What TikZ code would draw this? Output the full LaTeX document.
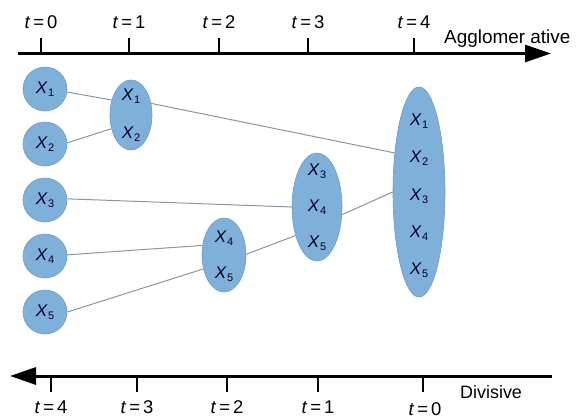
\documentclass[tikz,border=0pt]{standalone}
\usepackage{fontspec}
\setmainfont{Liberation Sans}
\usetikzlibrary{shapes.geometric,arrows.meta}
\definecolor{blobfill}{HTML}{7FB0DA}
\definecolor{blobedge}{HTML}{6B9CC6}
\definecolor{linkgray}{HTML}{8A969F}
\newcommand\xsub[1]{\textit{X}\kern0.3bp\raisebox{-3.5bp}{\fontsize{11}{11}\selectfont #1}}
\newcommand\tlab[1]{\textit{t}\kern3bp=\kern3bp#1}
\tikzset{
  blob/.style={ellipse,fill=blobfill,draw=blobedge,line width=0.6bp,inner sep=0pt},
  leaf/.style={blob,circle,minimum size=44bp},
  xlab/.style={inner sep=0pt,font=\fontsize{17}{19}\selectfont,text=black!85!blue},
  tlabel/.style={anchor=base,inner sep=0pt,font=\fontsize{18.5}{20}\selectfont},
  axis/.style={line width=3bp,-{Triangle[length=26bp,width=17bp]}},
  tick/.style={line width=1.2bp},
  link/.style={draw=linkgray,line width=1bp}
}
\begin{document}
\begin{tikzpicture}[x=1bp,y=-1bp]
\useasboundingbox (0,0) rectangle (576,419);
% top axis
\coordinate (topL) at (18,53.5);
\coordinate (topR) at (551,53.5);
\draw[axis] (topL) -- (topR);
\foreach \xx/\n in {41/0,129/1,219/2,308/3,414/4}{
  \draw[tick] (\xx,38) -- (\xx,53.5);
  \node[tlabel] (top\n) at (\xx,28) {\tlab{\n}};
}
\node[anchor=base west,inner sep=0pt,font=\fontsize{19}{22}\selectfont] (agg) at (444,43) {Agglomer ative};
% bottom axis
\coordinate (botR) at (552,376);
\coordinate (botL) at (10,376);
\draw[axis] (botR) -- (botL);
\foreach \xx/\n in {51/4,137/3,227/2,318/1}{
  \draw[tick] (\xx,376) -- (\xx,392);
  \node[tlabel] (bot\n) at (\xx,413) {\tlab{\n}};
}
\draw[tick] (423,376) -- (423,392);
\node[tlabel] (bot0) at (425,415.5) {\tlab{0}};
\node[anchor=base west,inner sep=0pt,font=\fontsize{18}{20}\selectfont] (div) at (460,398) {Divisive};
% leaves
\foreach \i/\yy in {1/89,2/144,3/200,4/256,5/312}{
  \node[leaf] (x\i) at (45,\yy) {};
  \node[xlab] (lx\i) at (45,\yy) {\xsub{\i}};
}
% clusters
\node[blob,minimum width=42bp,minimum height=70bp] (e12) at (131,115) {};
\node[xlab] (le12a) at (131,96) {\xsub{1}};
\node[xlab] (le12b) at (131,134) {\xsub{2}};
\node[blob,minimum width=44bp,minimum height=74bp] (e45) at (224,255) {};
\node[xlab] (le45a) at (224,238) {\xsub{4}};
\node[xlab] (le45b) at (224,274) {\xsub{5}};
\node[blob,minimum width=50bp,minimum height=108bp] (e345) at (317,207) {};
\node[xlab] (le345a) at (317,171) {\xsub{3}};
\node[xlab] (le345b) at (317,207) {\xsub{4}};
\node[xlab] (le345c) at (317,243) {\xsub{5}};
\node[blob,minimum width=52bp,minimum height=210bp] (big) at (419,192) {};
\foreach \i/\yy in {1/121,2/158,3/196,4/233,5/270}{
  \node[xlab] (lb\i) at (419,\yy) {\xsub{\i}};
}
% connectors
\draw[link] (x1.-8) -- (e12.142);
\draw[link] (x2.3) -- (e12.215);
\draw[link] (e12.30) -- (big.122);
\draw[link] (x3.3) -- (e345.180);
\draw[link] (x4.3) -- (e45.156);
\draw[link] (x5.0) -- (e45.214);
\draw[link] (e45.2) -- (e345.233);
\draw[link] (e345.-17) -- (big.180);
\end{tikzpicture}
\end{document}
